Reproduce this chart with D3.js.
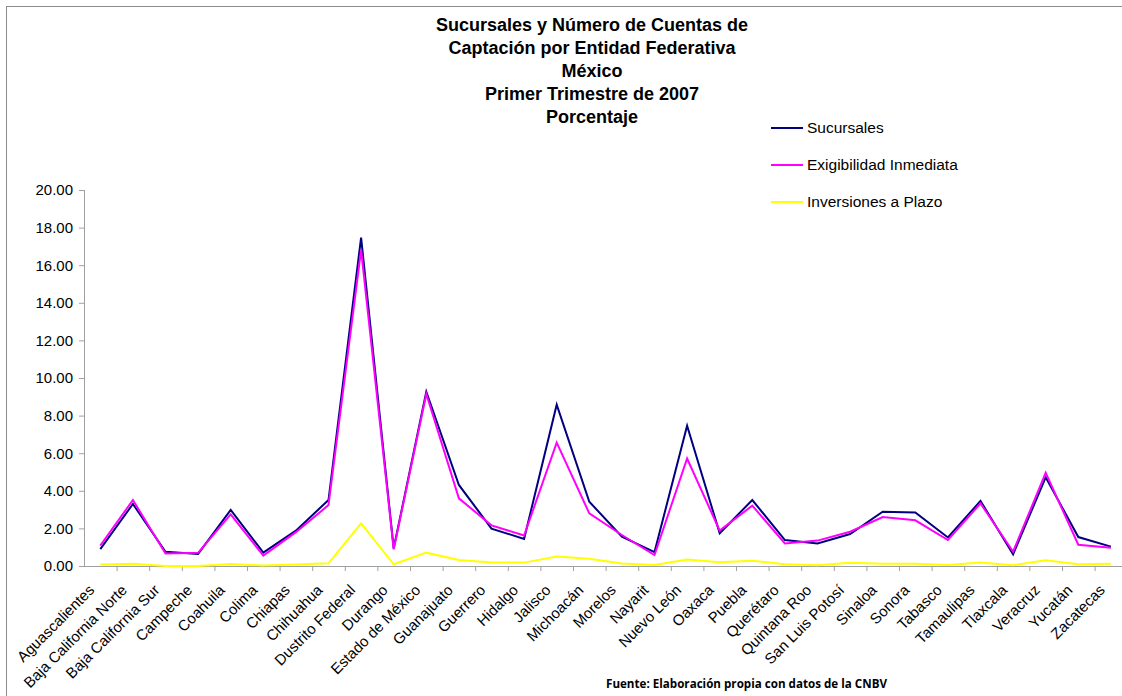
<!DOCTYPE html>
<html>
<head>
<meta charset="utf-8">
<script src="https://cdn.jsdelivr.net/npm/d3@7"></script>
<style>
  html, body { margin: 0; padding: 0; background: #fff; }
  svg { display: block; }
  text { font-family: "Liberation Sans", Arial, sans-serif; fill: #000; }
</style>
</head>
<body>
<svg id="chart" width="1122" height="696"></svg>
<script>
// Entidades federativas (eje X)
const categories = [
  "Aguascalientes", "Baja California Norte", "Baja California Sur", "Campeche",
  "Coahuila", "Colima", "Chiapas", "Chihuahua", "Dustrito Federal", "Durango",
  "Estado de México", "Guanajuato", "Guerrero", "Hidalgo", "Jalisco", "Michoacán",
  "Morelos", "Nayarit", "Nuevo León", "Oaxaca", "Puebla", "Querétaro",
  "Quintana Roo", "San Luis Potosí", "Sinaloa", "Sonora", "Tabasco",
  "Tamaulipas", "Tlaxcala", "Veracruz", "Yucatán", "Zacatecas"
];

// Porcentajes por entidad
const sucursales = [0.90, 3.30, 0.76, 0.64, 2.98, 0.71, 1.88, 3.51, 17.47, 0.94,
  9.27, 4.31, 1.99, 1.44, 8.58, 3.42, 1.56, 0.74, 7.46, 1.74, 3.51, 1.38, 1.20,
  1.70, 2.89, 2.85, 1.52, 3.46, 0.62, 4.72, 1.54, 1.03];
const exigibilidad = [1.08, 3.51, 0.67, 0.70, 2.75, 0.55, 1.80, 3.24, 16.81, 0.89,
  9.15, 3.60, 2.16, 1.62, 6.56, 2.80, 1.65, 0.58, 5.72, 1.88, 3.21, 1.20, 1.35,
  1.82, 2.60, 2.43, 1.38, 3.33, 0.76, 4.96, 1.13, 0.97];
const inversiones = [0.08, 0.12, 0.00, 0.00, 0.10, 0.03, 0.08, 0.14, 2.27, 0.09,
  0.71, 0.32, 0.18, 0.18, 0.50, 0.38, 0.13, 0.05, 0.34, 0.20, 0.28, 0.09, 0.04,
  0.17, 0.12, 0.12, 0.05, 0.18, 0.04, 0.30, 0.09, 0.12];

const seriesNames = ["Sucursales", "Exigibilidad Inmediata", "Inversiones a Plazo"];
const seriesColors = ["#000080", "#ff00ff", "#ffff00"];
const yTicks = [0, 2, 4, 6, 8, 10, 12, 14, 16, 18, 20];

const titleLines = [
  "Sucursales y Número de Cuentas de",
  "Captación por Entidad Federativa",
  "México",
  "Primer Trimestre de 2007",
  "Porcentaje"
];
const sourceNote = "Fuente: Elaboración propia con datos de la CNBV";

const svg = d3.select("#chart");

// Marco del área del gráfico
svg.append("rect")
  .attr("x", 6.5).attr("y", 6.5)
  .attr("width", 1300).attr("height", 900)
  .attr("fill", "#fff").attr("stroke", "#8c8c8c").attr("stroke-width", 1);

const plot = { left: 84, top: 190, bottom: 566, step: 32.6 };

const x = d3.scaleBand()
  .domain(categories)
  .range([plot.left, plot.left + plot.step * categories.length]);

const y = d3.scaleLinear()
  .domain([0, 20])
  .range([plot.bottom, plot.top]);

// Eje Y
const yAxis = svg.append("g")
  .attr("transform", `translate(${plot.left},0)`)
  .call(d3.axisLeft(y).tickValues(yTicks).tickFormat(d3.format(".2f"))
    .tickSize(5).tickPadding(6));
yAxis.selectAll("path, line").attr("stroke", "#a0a0a0");
yAxis.select("path").attr("d", `M0.5,${plot.top}V${plot.bottom}`);
yAxis.selectAll("text")
  .style("font-family", '"Liberation Sans", Arial, sans-serif')
  .style("font-size", "15px").attr("fill", "#000");

// Eje X: marcas en los límites entre categorías
const xAxis = svg.append("g")
  .attr("transform", `translate(0,${plot.bottom})`);
xAxis.append("line")
  .attr("x1", plot.left).attr("x2", x.range()[1])
  .attr("y1", 0.5).attr("y2", 0.5)
  .attr("stroke", "#a0a0a0");
xAxis.selectAll("line.tick")
  .data(categories)
  .join("line")
  .attr("class", "tick")
  .attr("x1", d => x(d) + x.bandwidth() + 0.5)
  .attr("x2", d => x(d) + x.bandwidth() + 0.5)
  .attr("y1", 0).attr("y2", 5)
  .attr("stroke", "#a0a0a0");
xAxis.selectAll("text")
  .data(categories)
  .join("text")
  .attr("text-anchor", "end")
  .attr("transform", d => `translate(${x(d) + x.bandwidth() / 2 - 5},${25}) rotate(-45)`)
  .style("font-size", "15px")
  .text(d => d);

// Series
const line = d3.line()
  .x((d, i) => x(categories[i]) + x.bandwidth() / 2)
  .y(d => y(d));

[sucursales, exigibilidad, inversiones].forEach((vals, k) => {
  svg.append("path")
    .datum(vals)
    .attr("fill", "none")
    .attr("stroke", seriesColors[k])
    .attr("stroke-width", 2)
    .attr("stroke-linejoin", "miter")
    .attr("d", line);
});

// Título
const title = svg.append("text")
  .attr("text-anchor", "middle")
  .style("font-weight", "bold")
  .style("font-size", "18px");
titleLines.forEach((t, i) => {
  title.append("tspan")
    .attr("x", 592)
    .attr("y", 31 + i * 23)
    .text(t);
});

// Leyenda
const legend = svg.append("g");
seriesNames.forEach((name, i) => {
  const cy = 128 + i * 37;
  legend.append("line")
    .attr("x1", 771).attr("x2", 803)
    .attr("y1", cy).attr("y2", cy)
    .attr("stroke", seriesColors[i]).attr("stroke-width", 2);
  legend.append("text")
    .attr("x", 807).attr("y", cy + 5)
    .style("font-size", "15.5px")
    .text(name);
});

// Fuente
svg.append("text")
  .attr("x", 606).attr("y", 688)
  .attr("textLength", 281)
  .attr("lengthAdjust", "spacingAndGlyphs")
  .style("font-family", '"Open Sans", Lato, sans-serif')
  .style("font-weight", "bold")
  .style("font-size", "12px")
  .text(sourceNote);
</script>
</body>
</html>
